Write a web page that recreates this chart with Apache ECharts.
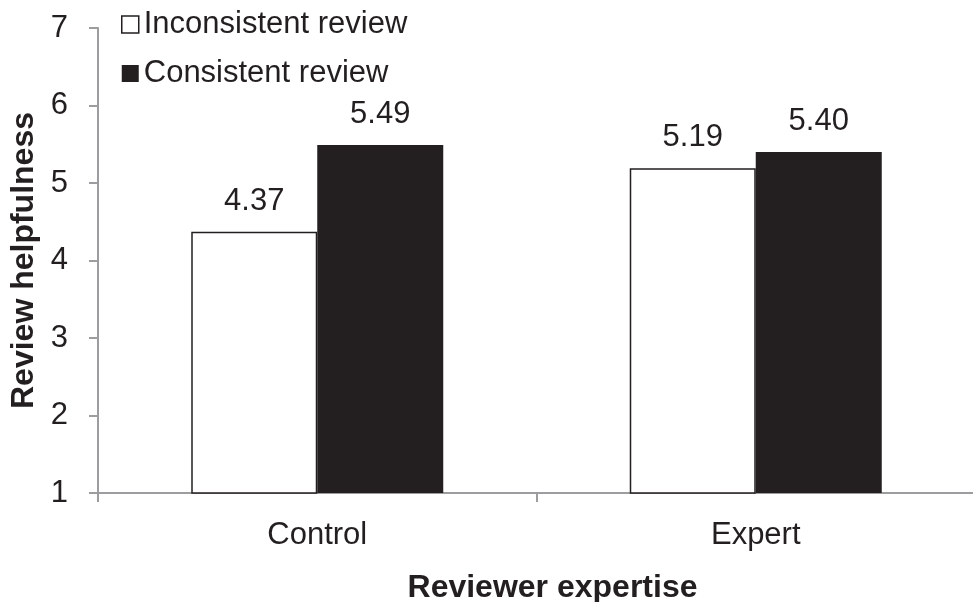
<!DOCTYPE html>
<html><head><meta charset="utf-8">
<script src="https://cdn.jsdelivr.net/npm/echarts@6/dist/echarts.min.js"></script>
<style>html,body{margin:0;padding:0;background:#fff}#c{width:973px;height:602px}</style>
</head><body><div id="c"></div>
<script>
const categories = ['Control', 'Expert'];
const inconsistent = [4.37, 5.19];
const consistent = [5.49, 5.40];
const yTicks = [1, 2, 3, 4, 5, 6, 7];
const seriesNames = ['Inconsistent review', 'Consistent review'];

const txt = '#231f20';
const font = '"Liberation Sans", Arial, Helvetica, sans-serif';
const FS = 31;
const chart = echarts.init(document.getElementById('c'));
chart.setOption({
  animation: false,
  textStyle: { fontFamily: font, color: txt },
  grid: { left: 98, right: -2, top: 28, bottom: 109, containLabel: false, outerBoundsMode: 'none' },
  legend: {
    orient: 'vertical', left: 116, top: 4, itemGap: 18,
    itemWidth: 17, itemHeight: 17, icon: 'rect',
    textStyle: { fontSize: FS, color: txt, fontFamily: font, padding: [0, 0, 0, 0] },
    data: [
      { name: seriesNames[0], itemStyle: { color: '#fff', borderColor: txt, borderWidth: 1.5 } },
      { name: seriesNames[1], itemStyle: { color: txt } }
    ]
  },
  xAxis: {
    type: 'category', data: categories,
    name: 'Reviewer expertise', nameLocation: 'middle', nameGap: 79,
    nameTextStyle: { fontSize: 32, fontWeight: 'bold', color: txt, fontFamily: font, padding: [0, 0, 0, 32] },
    axisLine: { lineStyle: { color: '#9d9d9f', width: 2 } },
    axisTick: { show: true, length: 9, lineStyle: { color: '#9d9d9f', width: 2 } },
    axisLabel: { fontSize: FS, color: txt, margin: 27, fontFamily: font }
  },
  yAxis: {
    type: 'value', min: yTicks[0], max: yTicks[yTicks.length - 1], interval: 1,
    name: 'Review helpfulness', nameLocation: 'middle', nameGap: 58, nameRotate: 90,
    nameTextStyle: { fontSize: 32, fontWeight: 'bold', color: txt, fontFamily: font },
    axisLine: { show: true, lineStyle: { color: '#9d9d9f', width: 2 } },
    axisTick: { show: true, length: 9, lineStyle: { color: '#9d9d9f', width: 2 } },
    splitLine: { show: false },
    axisLabel: { fontSize: FS, color: txt, margin: 30, fontFamily: font }
  },
  series: [
    {
      name: seriesNames[0], type: 'bar', data: inconsistent, barWidth: 126, barGap: '0%',
      itemStyle: { color: '#fff', borderColor: txt, borderWidth: 1.5 },
      label: { show: true, position: 'top', distance: 15, fontSize: FS, color: txt, fontFamily: font,
        formatter: p => p.value.toFixed(2) }
    },
    {
      name: seriesNames[1], type: 'bar', data: consistent, barWidth: 126, barGap: '0%',
      itemStyle: { color: txt },
      label: { show: true, position: 'top', distance: 15, fontSize: FS, color: txt, fontFamily: font,
        formatter: p => p.value.toFixed(2) }
    }
  ]
});
</script></body></html>
